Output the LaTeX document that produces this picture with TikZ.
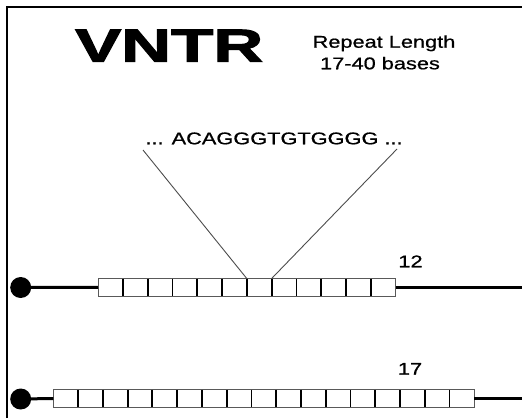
\documentclass[tikz,border=0pt]{standalone}
\usepackage{fontspec}
\usepackage{graphicx}
\setmainfont{Liberation Sans}[FakeStretch=1.28, FakeBold=0.8]
\newfontfamily\blackfont{Liberation Sans Bold}[FakeBold=2]
\begin{document}
\begin{tikzpicture}[x=1pt,y=-1pt,
  unit/.style={draw=gray!70!black, line width=0.9pt, fill=white, minimum width=24.8pt, minimum height=17.5pt, inner sep=0pt, outer sep=0pt},
  divider/.style={line width=1.8pt, black},
  dna/.style={line width=3pt, black},
  endpoint/.style={circle, fill=black, minimum size=21pt, inner sep=0pt, outer sep=0pt},
  lbl/.style={font=\fontsize{17}{20}\selectfont, inner sep=0pt, anchor=base},
  zoomline/.style={line width=0.9pt, gray!60!black},
  framestyle/.style={line width=1.5pt, black}
]
\useasboundingbox (0,0) rectangle (522,418);
% frame
\coordinate (f1) at (7,418);
\coordinate (f2) at (7,7);
\coordinate (f3) at (522,7);
\draw[framestyle] (f1) -- (f2) -- (f3);

% title
\node[anchor=base west, inner sep=0pt] (title) at (75,61.7) {\resizebox{188pt}{32pt}{\blackfont VNTR}};
\node[lbl] (rl1) at (384,47.7) {Repeat Length};
\node[lbl] (rl2) at (380,69.3) {17-40 bases};

% row 1
\node[endpoint] (d1) at (20.7,287.5) {};
\foreach \i in {1,...,12} {
  \node[unit] (a\i) at ({98+(\i-0.5)*24.8},287.3) {};
}
\foreach \i in {1,...,11} {
  \draw[divider] (a\i.north east) -- (a\i.south east);
}
\coordinate (e1) at (522,287.3);
\draw[dna] (d1) -- (a1.west);
\draw[dna] (a12.east) -- (e1);
\node[lbl] (n1) at (410.5,267.3) {12};

% sequence + zoom lines
\node[lbl] (seq) at (274,144.3) {... ACAGGGTGTGGGG ...};
\coordinate (s1) at (143,150);
\coordinate (s2) at (397,149);
\draw[zoomline] (s1) -- (a7.north west);
\draw[zoomline] (s2) -- (a7.north east);

% row 2
\node[endpoint] (d2) at (20.7,399) {};
\foreach \i in {1,...,17} {
  \node[unit] (b\i) at ({53.3+(\i-0.5)*24.76},398.5) {};
}
\foreach \i in {1,...,16} {
  \draw[divider] (b\i.north east) -- (b\i.south east);
}
\coordinate (e2) at (522,398.5);
\draw[dna] (d2) -- (b1.west);
\draw[dna] (b17.east) -- (e2);
\node[lbl] (n2) at (410,374.7) {17};
\end{tikzpicture}
\end{document}
